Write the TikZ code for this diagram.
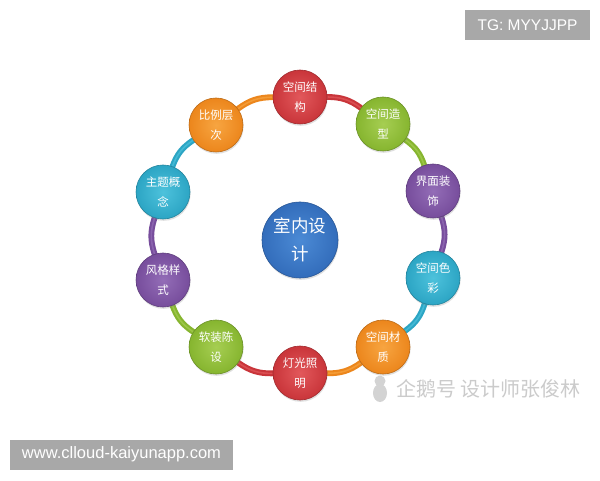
\documentclass[tikz,border=0pt]{standalone}
\usepackage{fontspec}
\setmainfont{Liberation Sans}
\newfontfamily\cjk{Noto Sans CJK SC}
\usetikzlibrary{shadows,backgrounds}
\definecolor{redb}{HTML}{C9353A}\definecolor{redl}{HTML}{E2585B}
\definecolor{greenb}{HTML}{86B52F}\definecolor{greenl}{HTML}{A6CE52}
\definecolor{purpleb}{HTML}{774D9C}\definecolor{purplel}{HTML}{936DB7}
\definecolor{cyanb}{HTML}{2CA5C4}\definecolor{cyanl}{HTML}{4DC2DC}
\definecolor{orangeb}{HTML}{EC861C}\definecolor{orangel}{HTML}{F7A541}
\definecolor{blueb}{HTML}{336DBB}\definecolor{bluel}{HTML}{4B8AD5}
\definecolor{wmgray}{HTML}{A8A8A8}
\definecolor{wmtext}{HTML}{CBCBCB}
\tikzset{
  ball/.style={circle, minimum size=54pt, inner sep=0pt, shading=radial,
    inner color=#1l, outer color=#1b, draw=#1b!80!black, line width=0.6pt,
    text=white, align=center, font=\cjk\fontsize{11.5}{20}\selectfont,
    drop shadow={opacity=0.25, shadow xshift=0.6pt, shadow yshift=-1.8pt}},
  bigball/.style={ball=#1, minimum size=76pt, font=\cjk\fontsize{17.5}{28}\selectfont},
  ring/.style={line width=5.8pt, draw=#1b, line cap=round},
  ringhi/.style={line width=1.6pt, draw=#1l, opacity=0.7},
  wmbox/.style={fill=wmgray, text=white, inner sep=0pt, minimum height=30pt}
}
\begin{document}
\begin{tikzpicture}[x=1pt,y=1pt]
\useasboundingbox (0,0) rectangle (600,480);
% nodes
\node[bigball=blue] (c) at (300,240) {室内设\\计};
\node[ball=red]    (jg) at (300,383) {空间结\\构};
\node[ball=green]  (zx) at (383,356) {空间造\\型};
\node[ball=purple] (jm) at (433,289) {界面装\\饰};
\node[ball=cyan]   (ss) at (433,202) {空间色\\彩};
\node[ball=orange] (cz) at (383,133) {空间材\\质};
\node[ball=red]    (dg) at (300,107) {灯光照\\明};
\node[ball=green]  (rz) at (216,133) {软装陈\\设};
\node[ball=purple] (fg) at (163,200) {风格样\\式};
\node[ball=cyan]   (zt) at (163,288) {主题概\\念};
\node[ball=orange] (bl) at (216,355) {比例层\\次};
\begin{pgfonlayer}{background}
\fill[white] (0,0) rectangle (600,480);
\foreach \a/\b/\col in {jg/zx/red, zx/jm/green, jm/ss/purple, ss/cz/cyan, cz/dg/orange,
                        dg/rz/red, rz/fg/green, fg/zt/purple, zt/bl/cyan, bl/jg/orange}{
  \draw[ring=\col] (\a) to[bend left=18] (\b);
  \draw[ringhi=\col] (\a) to[bend left=18] (\b);
}
\end{pgfonlayer}
% watermarks
\node[wmbox, minimum width=125pt, font=\fontsize{15.5}{17}\selectfont] (tg) at (527.5,455) {TG: MYYJJPP};
\node[wmbox, minimum width=223pt, font=\fontsize{16.5}{18}\selectfont] (www) at (121.5,25.5) {www.clloud-kaiyunapp.com};
\node[anchor=west, text=wmtext, inner sep=0pt, font=\cjk\fontsize{20}{22}\selectfont] (wm) at (396,91) {企鹅号 设计师张俊林};
\fill[wmtext!85!white] (380,87) ellipse (7pt and 9pt);
\fill[wmtext!85!white] (380,99) circle (5.5pt);
\end{tikzpicture}
\end{document}
